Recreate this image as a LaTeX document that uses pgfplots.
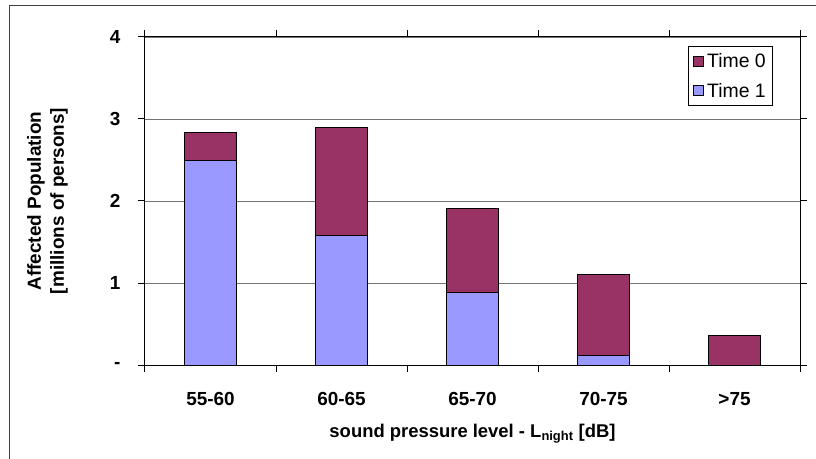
\documentclass[border=0pt]{standalone}
\usepackage{pgfplots}
\pgfplotsset{compat=1.18}
\usepackage{fontspec}
\setmainfont{Liberation Sans}
\definecolor{tzero}{HTML}{993366}
\definecolor{tone}{HTML}{9999FF}
\begin{document}
\begin{tikzpicture}
\path[use as bounding box] (-145bp,-94bp) rectangle (671bp,365bp);
\draw[black!75, line width=1bp] (-135bp,-110bp) -- (-135bp,359bp) -- (690bp,359bp);
\begin{axis}[
  scale only axis, width=655bp, height=328bp,
  xmin=-0.5, xmax=4.5, ymin=0, ymax=4,
  ybar, bar width=52bp, bar shift=0pt,
  axis line style={black, line width=1bp},
  xtick={0,1,2,3,4},
  xticklabels={55-60,60-65,65-70,70-75,{>75}},
  minor xtick={-0.5,0.5,1.5,2.5,3.5,4.5},
  ytick={0,1,2,3,4},
  yticklabels={{-\hspace{31bp}},1,2,3,4},
  tick align=outside,
  major tick length=7bp, minor tick length=7bp,
  major x tick style={draw=none},
  minor x tick style={black, line width=1bp},
  y tick style={black, line width=1bp},
  ymajorgrids, grid style={black!55, line width=0.8bp},
  tick label style={font=\fontsize{19}{20}\selectfont\bfseries},
  xticklabel style={anchor=base, yshift=-33bp},
  yticklabel style={anchor=east, xshift=-14bp},
  xlabel={sound pressure level - L\textsubscript{night} [dB]},
  xlabel style={font=\fontsize{18.5}{20}\selectfont\bfseries, anchor=base, at={(axis description cs:0.5,0)}, yshift=-72bp},
  ylabel={Affected Population\\ {[millions of persons]}},
  ylabel style={align=center, font=\fontsize{19}{23}\selectfont\bfseries, at={(axis description cs:-0.149,0.5)}, anchor=center},
  legend style={at={(0.959,0.9726)}, anchor=north east, draw=black, line width=0.8bp,
    font=\fontsize{19.5}{20}\selectfont, inner xsep=5bp, inner ysep=5bp, row sep=10bp,
    /tikz/every odd column/.append style={column sep=1bp}},
  legend cell align=left,
]
\addplot[fill=tzero, draw=black, line width=1bp, bar shift=0pt,
  legend image code/.code={\draw[fill=tzero, draw=black, line width=0.8bp] (0bp,-5bp) rectangle (10bp,5bp);}]
  coordinates {(0,2.84) (1,2.90) (2,1.91) (3,1.10) (4,0.36)};
\addlegendentry{Time 0}
\addplot[fill=tone, draw=black, line width=1bp, bar shift=0pt,
  legend image code/.code={\draw[fill=tone, draw=black, line width=0.8bp] (0bp,-5bp) rectangle (10bp,5bp);}]
  coordinates {(0,2.49) (1,1.58) (2,0.88) (3,0.12)};
\addlegendentry{Time 1}
\end{axis}
\end{tikzpicture}
\end{document}
